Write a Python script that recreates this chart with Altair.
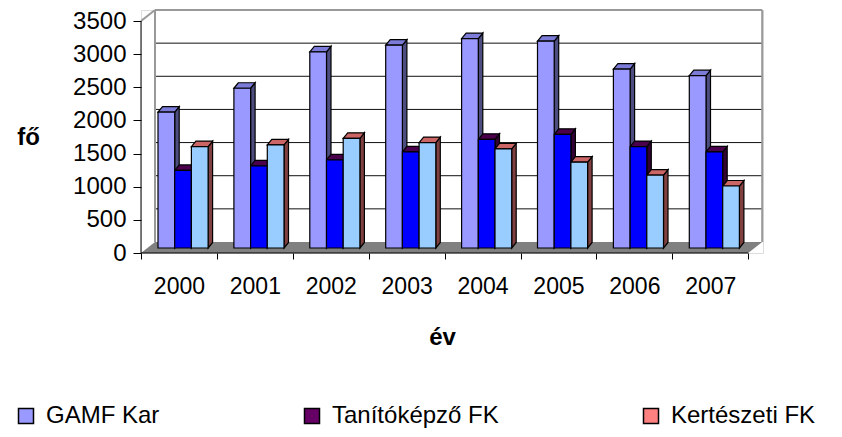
import json
import altair as alt
import pandas as pd

# ---------------- data ----------------
years = ["2000", "2001", "2002", "2003", "2004", "2005", "2006", "2007"]
series = ["GAMF Kar", "Tanítóképző FK", "Kertészeti FK"]
gamf = [2050, 2410, 2960, 3060, 3160, 3120, 2700, 2600]
tanito = [1170, 1240, 1330, 1450, 1640, 1715, 1530, 1450]
kertesz = [1530, 1555, 1655, 1590, 1495, 1295, 1100, 935]
y_ticks = [0, 500, 1000, 1500, 2000, 2500, 3000, 3500]

# ---------------- style ----------------
legend_colors = ["#9999FF", "#660066", "#FF8080"]
front_colors = ["#9999FF", "#0000FF", "#99CCFF"]
top_colors = ["#7C7CD8", "#4A004A", "#CC6666"]
side_colors = ["#4D4D80", "#330033", "#804040"]

FONT = "Liberation Sans"
PW, PH = 622, 243               # plot area in px
PX_CAT = 75.9                   # px per category
UPP = 3500 / 232.0              # value units per px
XMAX = PW / PX_CAT
YMAX = PH * UPP
DX = 14 / PX_CAT                # full depth (walls)
DY = 11 * UPP
BASE = 5 * UPP                  # bar base depth shift
BX0 = 17 / PX_CAT
BW = 16.7 / PX_CAT
BDX = 4.5 / PX_CAT
BDY = 5.5 * UPP
NC = len(years)

xs = alt.Scale(domain=[0, XMAX], nice=False, zero=False)
ys = alt.Scale(domain=[0, YMAX], nice=False, zero=False)

values = [gamf, tanito, kertesz]

front_rows, top_rows, side_rows = [], [], []
for k in range(NC):
    for j in range(3):
        v = values[j][k]
        xl = k + BX0 + j * BW
        xr = xl + BW
        bid = f"{k}-{j}"
        front_rows.append(dict(id=bid, x=xl, x2=xr, y=BASE, y2=BASE + v, fill=front_colors[j]))
        top_rows += [
            dict(id=bid, y=BASE + v, x=xl, x2=xr, fill=top_colors[j]),
            dict(id=bid, y=BASE + v + BDY, x=xl + BDX, x2=xr + BDX, fill=top_colors[j]),
        ]
        side_rows += [
            dict(id=bid, x=xr, y=BASE, y2=BASE + v, fill=side_colors[j]),
            dict(id=bid, x=xr + BDX, y=BASE + BDY, y2=BASE + v + BDY, fill=side_colors[j]),
        ]

front_df = pd.DataFrame(front_rows)
top_df = pd.DataFrame(top_rows)
side_df = pd.DataFrame(side_rows)

floor_df = pd.DataFrame([
    dict(y=0, x=0, x2=NC),
    dict(y=DY, x=DX, x2=NC + DX),
])
grid_df = pd.DataFrame([dict(y=g + DY, x=DX, x2=NC + DX) for g in y_ticks[1:-1]])
wall_df = pd.DataFrame([
    dict(x=DX, x2=DX, y=DY, y2=YMAX),                 # left back edge
    dict(x=NC + DX, x2=NC + DX, y=DY, y2=YMAX),       # right back edge
    dict(x=DX, x2=NC + DX, y=YMAX, y2=YMAX),          # top edge
    dict(x=0, x2=DX, y=y_ticks[-1], y2=y_ticks[-1] + DY),  # top-left diagonal
])
axis_df = pd.DataFrame([
    dict(x=0, x2=0, y=0, y2=y_ticks[-1]),             # y axis line
    dict(x=0, x2=NC, y=0, y2=0),                      # front floor edge
])
legend_df = pd.DataFrame(dict(series=series, x=[0] * 3, y=[0] * 3))

label_expr = json.dumps(years) + "[datum.value] || ''"

x_axis = alt.Axis(
    values=list(range(NC + 1)), tickSize=6, tickColor="black", tickWidth=1,
    domain=False, grid=False, labelExpr=label_expr, labelOffset=PX_CAT / 2,
    labelFlush=False, labelFontSize=23, labelPadding=16, labelAlign="center",
    labelColor="black", labelFont=FONT, labelOverlap=False,
    title="év", titleFontSize=24, titleFontWeight="bold", titleFont=FONT,
    titleColor="black", titleX=301, titleY=84, titleAlign="center",
    titleBaseline="middle",
)
y_axis = alt.Axis(
    values=y_ticks, format="d", tickSize=8, tickColor="black", tickWidth=1,
    domain=False, grid=False, labelFontSize=24, labelPadding=7,
    labelColor="black", labelFont=FONT, labelOverlap=False, labelFlush=False,
    title="fő", titleAngle=0, titleFontSize=24, titleFontWeight="bold",
    titleFont=FONT, titleColor="black", titleX=-113, titleY=127,
    titleAlign="center", titleBaseline="middle",
)


def X(field="x"):
    return alt.X(f"{field}:Q", scale=xs, axis=x_axis)


def Y(field="y"):
    return alt.Y(f"{field}:Q", scale=ys, axis=y_axis)


floor = alt.Chart(floor_df).mark_area(orient="horizontal", color="#808080").encode(
    y=Y(), x=X(), x2="x2:Q",
)

grid = alt.Chart(grid_df).mark_rule(color="#111111", strokeWidth=1).encode(
    y=Y(), x=X(), x2="x2:Q",
)

walls = alt.Chart(wall_df).mark_rule(color="#999999", strokeWidth=2).encode(
    x=X(), x2="x2:Q", y=Y(), y2="y2:Q",
)

sides = alt.Chart(side_df).mark_area(orient="vertical", stroke="black", strokeWidth=1.2).encode(
    x=X(), y=Y(), y2="y2:Q",
    detail="id:N",
    color=alt.Color("fill:N", scale=None),
)

tops = alt.Chart(top_df).mark_area(orient="horizontal", stroke="black", strokeWidth=1.2).encode(
    y=Y(), x=X(), x2="x2:Q",
    detail="id:N",
    color=alt.Color("fill:N", scale=None),
)

fronts = alt.Chart(front_df).mark_rect(stroke="black", strokeWidth=1.2).encode(
    x=X(), x2="x2:Q", y=Y(), y2="y2:Q",
    color=alt.Color("fill:N", scale=None),
)

axes_lines = alt.Chart(axis_df).mark_rule(color="black", strokeWidth=1).encode(
    x=X(), x2="x2:Q", y=Y(), y2="y2:Q",
)

legend_layer = alt.Chart(legend_df).mark_point(filled=True, shape="square", opacity=0).encode(
    x=X(), y=Y(),
    color=alt.Color(
        "series:N",
        scale=alt.Scale(domain=series, range=legend_colors),
        sort=series,
        legend=alt.Legend(
            orient="none", legendX=-127, legendY=394, direction="horizontal",
            title=None, symbolType="square", symbolSize=225,
            symbolStrokeColor="black", symbolStrokeWidth=1.5, symbolOpacity=1,
            labelFontSize=24, labelFont=FONT, labelColor="black", labelLimit=0,
            labelOffset=8, columnPadding=140, padding=0, gridAlign="each",
        ),
    ),
)

chart = alt.layer(
    floor, grid, walls, sides, tops, fronts, axes_lines, legend_layer
).properties(
    width=PW, height=PH,
    autosize=alt.AutoSizeParams(type="none"),
    padding={"left": 133, "top": 2, "right": 826 - 133 - PW, "bottom": 421 - 2 - PH},
    background="white",
).configure_view(stroke=None).configure(font=FONT)

chart.save("out.html", embed_options={"renderer": "svg", "actions": False})
